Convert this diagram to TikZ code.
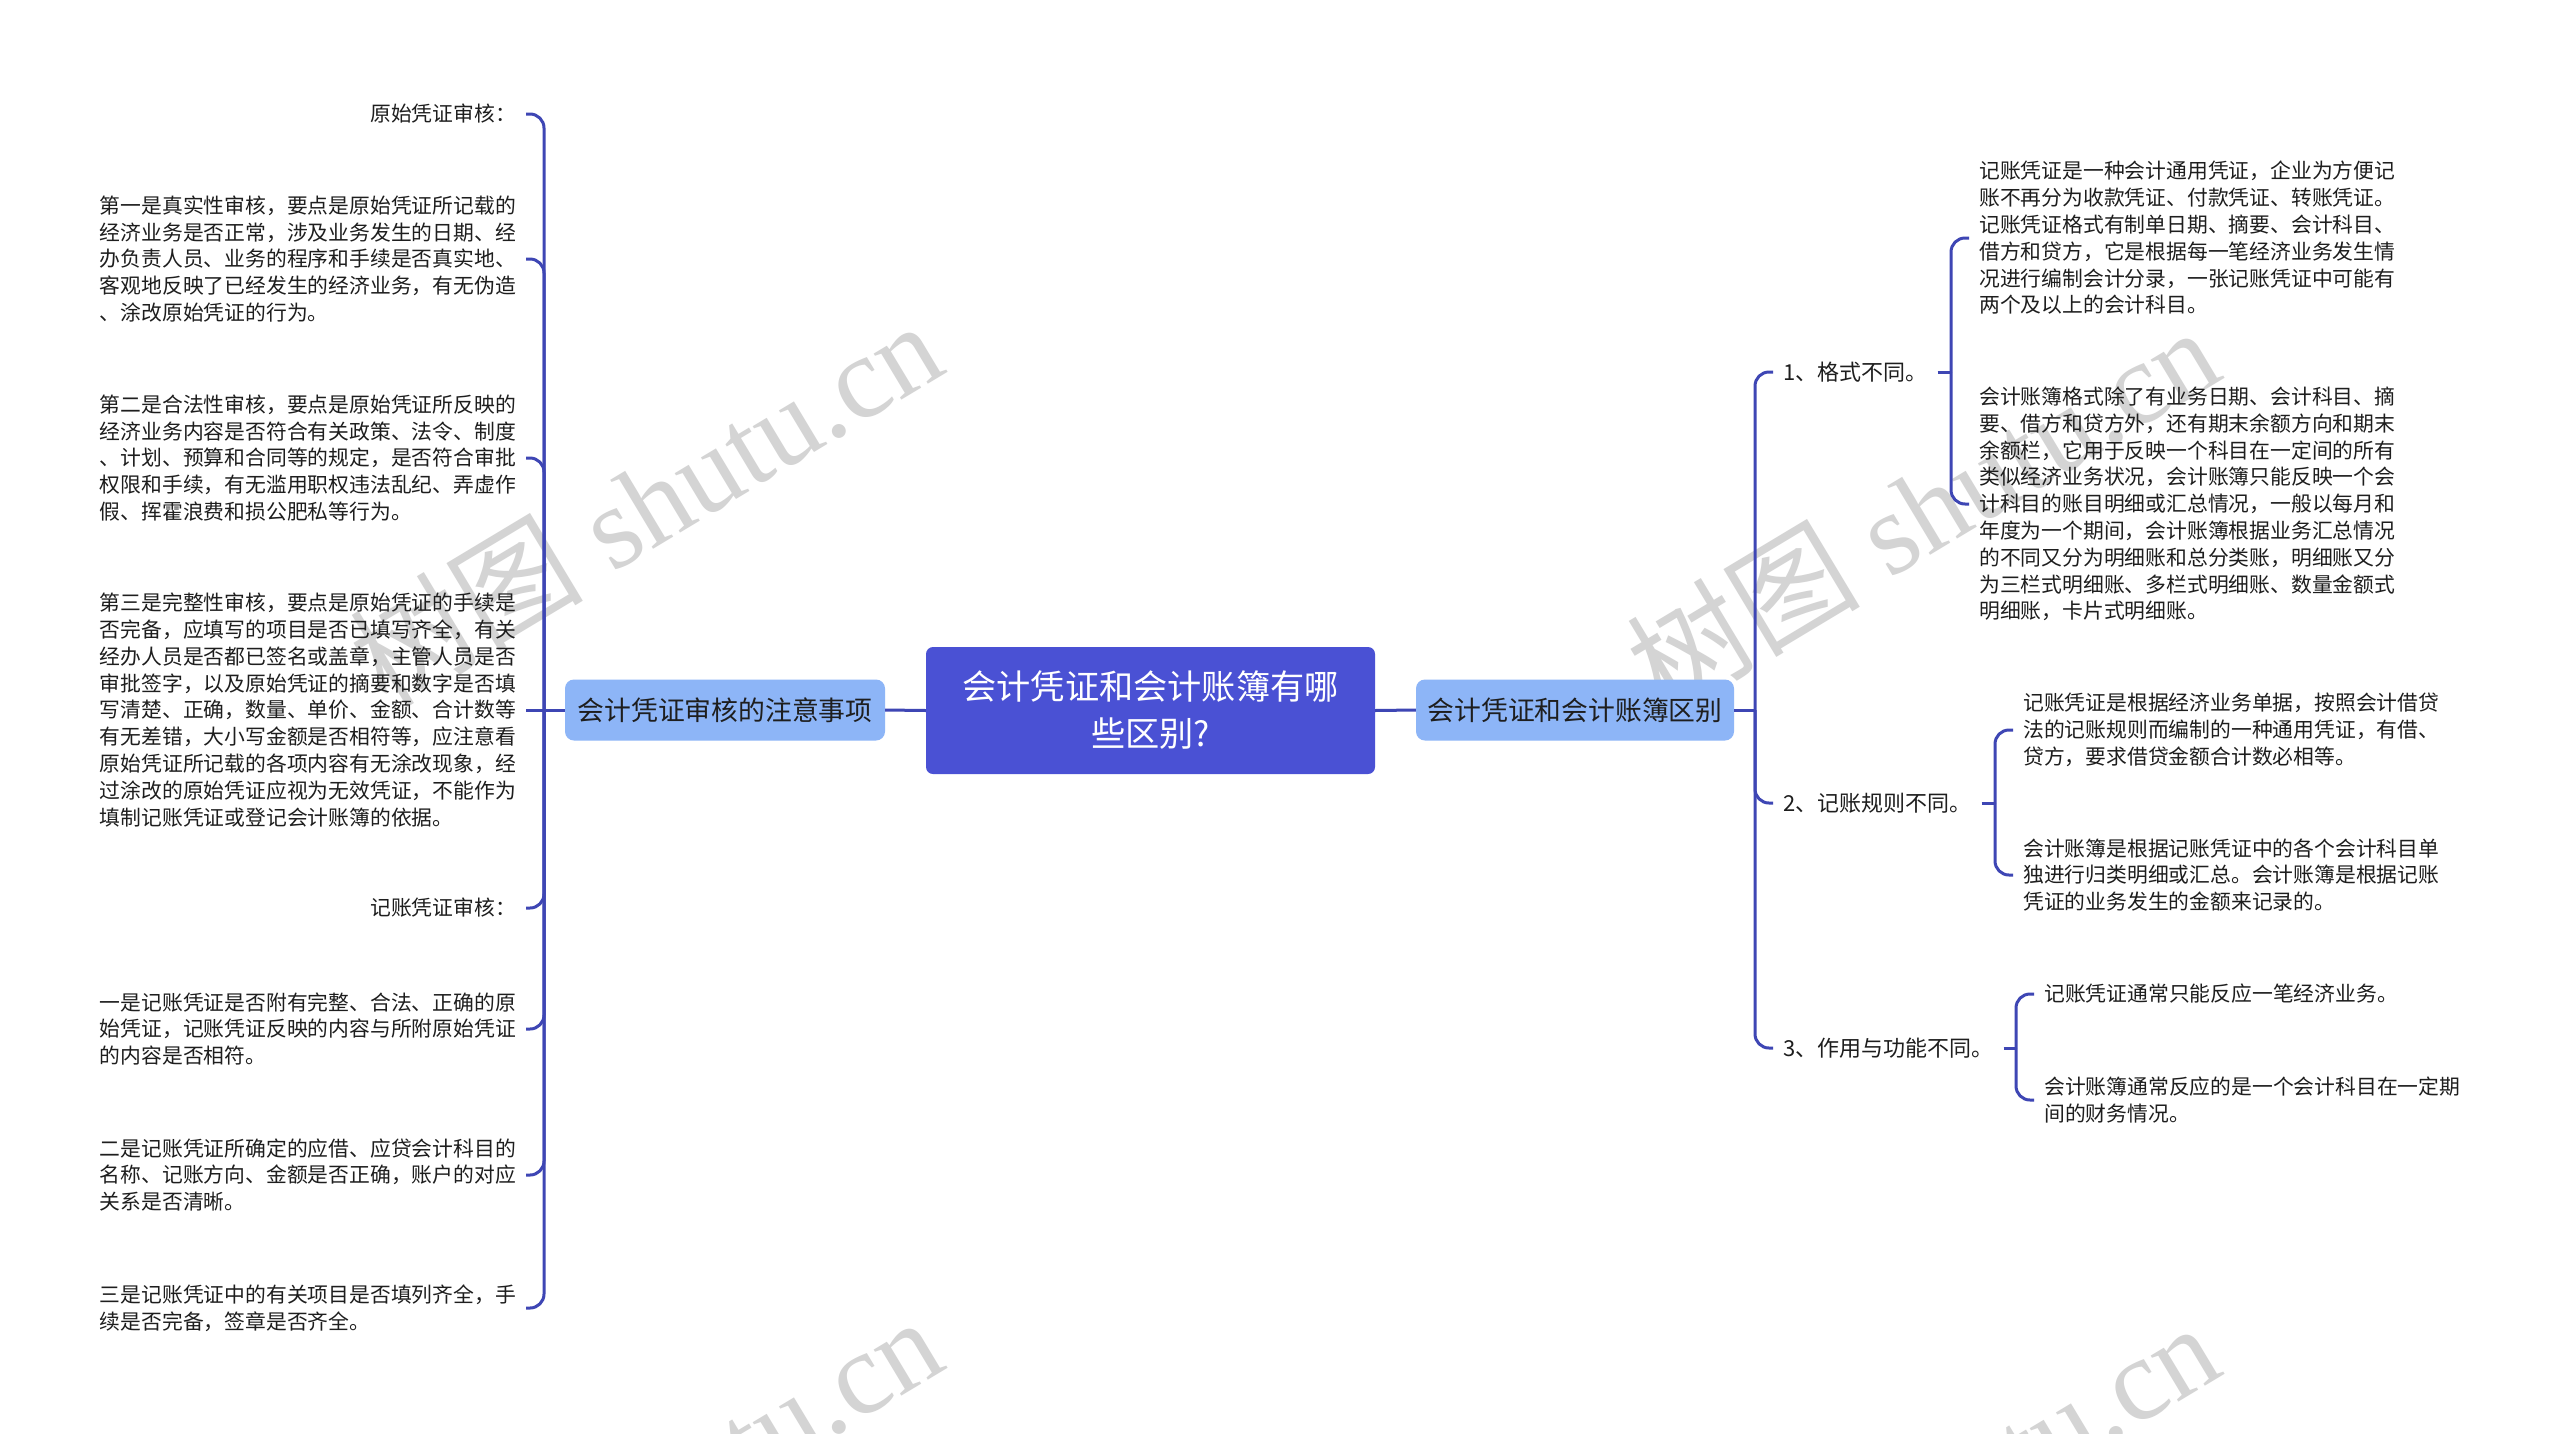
\documentclass[tikz,border=0pt]{standalone}
\usepackage{fontspec}
\setmainfont{Noto Sans CJK SC}
\newfontfamily\wmserif{Liberation Serif}
\definecolor{linec}{RGB}{62,70,180}
\definecolor{rootc}{RGB}{74,81,212}
\definecolor{mainc}{RGB}{141,181,247}
\definecolor{txtc}{RGB}{30,30,30}
\definecolor{wmc}{RGB}{212,212,212}
\tikzset{
  conn/.style={draw=linec, line width=3pt, rounded corners=14pt},
  stub/.style={draw=linec, line width=3pt},
  leaf/.style={inner xsep=10pt, inner ysep=0pt, align=left, text=txtc,
    font=\fontsize{20.8}{26.8}\selectfont},
  lab/.style={inner xsep=10pt, inner ysep=0pt, text=txtc,
    font=\fontsize{22}{26.8}\selectfont},
  rootbox/.style={fill=rootc, rounded corners=7pt, minimum width=449pt,
    minimum height=127pt, text=white, align=center, inner sep=0pt,
    font=\fontsize{34.2}{47}\selectfont},
  mainbox/.style={fill=mainc, rounded corners=9pt, minimum height=61pt,
    text=txtc, inner sep=0pt, font=\fontsize{26.8}{30}\selectfont},
  wm/.style={text=wmc, inner sep=0pt, font=\fontsize{117}{117}\selectfont}
}
\begin{document}
\begin{tikzpicture}[x=1pt,y=-1pt]
\useasboundingbox (0,0) rectangle (2560,1433);
\fill[white] (0,0) rectangle (2560,1433);
\begin{scope}
\clip (0,0) rectangle (2560,1433);
\node[wm, rotate=31] (wm1) at (645,502) {树图\hspace{0.25em}{\wmserif shutu.cn}};
\node[wm, rotate=31] (wm2) at (1922,508) {树图\hspace{0.25em}{\wmserif shutu.cn}};
\node[wm, rotate=31] (wm3) at (645,1498) {树图\hspace{0.25em}{\wmserif shutu.cn}};
\node[wm, rotate=31] (wm4) at (1922,1504) {树图\hspace{0.25em}{\wmserif shutu.cn}};
\end{scope}

% central and main nodes
\node[rootbox] (root) at (1150.5,710.5) {会计凭证和会计账簿有哪\\些区别?};
\node[mainbox, minimum width=320pt] (L) at (725,710) {会计凭证审核的注意事项};
\node[mainbox, minimum width=318pt] (R) at (1575,710) {会计凭证和会计账簿区别};
\draw[stub] (root.west) -- (L.east);
\draw[stub] (root.east) -- (R.west);

% left subtree
\coordinate (lb) at (544,710);
\draw[stub] (L.west) -- (lb);
\node[leaf, anchor=east] (l1) at (526,114) {原始凭证审核：};
\node[leaf, anchor=east] (l2) at (526,259) {第一是真实性审核，要点是原始凭证所记载的\\经济业务是否正常，涉及业务发生的日期、经\\办负责人员、业务的程序和手续是否真实地、\\客观地反映了已经发生的经济业务，有无伪造\\、涂改原始凭证的行为。};
\node[leaf, anchor=east] (l3) at (526,458) {第二是合法性审核，要点是原始凭证所反映的\\经济业务内容是否符合有关政策、法令、制度\\、计划、预算和合同等的规定，是否符合审批\\权限和手续，有无滥用职权违法乱纪、弄虚作\\假、挥霍浪费和损公肥私等行为。};
\node[leaf, anchor=east] (l4) at (526,710) {第三是完整性审核，要点是原始凭证的手续是\\否完备，应填写的项目是否已填写齐全，有关\\经办人员是否都已签名或盖章，主管人员是否\\审批签字，以及原始凭证的摘要和数字是否填\\写清楚、正确，数量、单价、金额、合计数等\\有无差错，大小写金额是否相符等，应注意看\\原始凭证所记载的各项内容有无涂改现象，经\\过涂改的原始凭证应视为无效凭证，不能作为\\填制记账凭证或登记会计账簿的依据。};
\node[leaf, anchor=east] (l5) at (526,908) {记账凭证审核：};
\node[leaf, anchor=east] (l6) at (526,1029) {一是记账凭证是否附有完整、合法、正确的原\\始凭证，记账凭证反映的内容与所附原始凭证\\的内容是否相符。};
\node[leaf, anchor=east] (l7) at (526,1175) {二是记账凭证所确定的应借、应贷会计科目的\\名称、记账方向、金额是否正确，账户的对应\\关系是否清晰。};
\node[leaf, anchor=east] (l8) at (526,1308) {三是记账凭证中的有关项目是否填列齐全，手\\续是否完备，签章是否齐全。};
\foreach \c in {l1,l2,l3,l5,l6,l7,l8} \draw[conn] (lb) |- (\c.east);
\draw[stub] (lb) -- (l4.east);

% right subtree
\coordinate (rb) at (1755,710);
\draw[stub] (R.east) -- (rb);
\node[lab, anchor=west] (r1) at (1773,372) {1、格式不同。};
\node[lab, anchor=west] (r2) at (1773,803) {2、记账规则不同。};
\node[lab, anchor=west] (r3) at (1773,1048) {3、作用与功能不同。};
\foreach \c in {r1,r2,r3} \draw[conn] (rb) |- (\c.west);

\coordinate (b1) at (1951,372);
\coordinate (b2) at (1995,803);
\coordinate (b3) at (2016,1048);
\draw[stub] (r1.east) -- (b1);
\draw[stub] (r2.east) -- (b2);
\draw[stub] (r3.east) -- (b3);

\node[leaf, anchor=west] (r11) at (1969,238) {记账凭证是一种会计通用凭证，企业为方便记\\账不再分为收款凭证、付款凭证、转账凭证。\\记账凭证格式有制单日期、摘要、会计科目、\\借方和贷方，它是根据每一笔经济业务发生情\\况进行编制会计分录，一张记账凭证中可能有\\两个及以上的会计科目。};
\node[leaf, anchor=west] (r12) at (1969,504) {会计账簿格式除了有业务日期、会计科目、摘\\要、借方和贷方外，还有期末余额方向和期末\\余额栏，它用于反映一个科目在一定间的所有\\类似经济业务状况，会计账簿只能反映一个会\\计科目的账目明细或汇总情况，一般以每月和\\年度为一个期间，会计账簿根据业务汇总情况\\的不同又分为明细账和总分类账，明细账又分\\为三栏式明细账、多栏式明细账、数量金额式\\明细账，卡片式明细账。};
\node[leaf, anchor=west] (r21) at (2013,730) {记账凭证是根据经济业务单据，按照会计借贷\\法的记账规则而编制的一种通用凭证，有借、\\贷方，要求借贷金额合计数必相等。};
\node[leaf, anchor=west] (r22) at (2013,875) {会计账簿是根据记账凭证中的各个会计科目单\\独进行归类明细或汇总。会计账簿是根据记账\\凭证的业务发生的金额来记录的。};
\node[leaf, anchor=west] (r31) at (2034,994) {记账凭证通常只能反应一笔经济业务。};
\node[leaf, anchor=west] (r32) at (2034,1100) {会计账簿通常反应的是一个会计科目在一定期\\间的财务情况。};
\draw[conn] (b1) |- (r11.west);
\draw[conn] (b1) |- (r12.west);
\draw[conn] (b2) |- (r21.west);
\draw[conn] (b2) |- (r22.west);
\draw[conn] (b3) |- (r31.west);
\draw[conn] (b3) |- (r32.west);
\end{tikzpicture}
\end{document}
